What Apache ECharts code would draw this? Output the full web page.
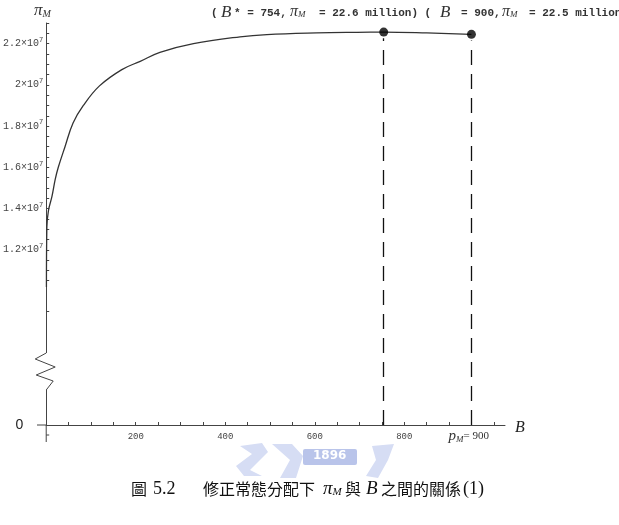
<!DOCTYPE html>
<html>
<head>
<meta charset="utf-8">
<script src="https://cdn.jsdelivr.net/npm/echarts@6/dist/echarts.min.js"></script>
<style>
  html, body { margin: 0; background: #fff; }
  #chart { width: 619px; height: 525px; }
</style>
</head>
<body>
<div id="chart"></div>
<script>
// curve (B, pi_M)
const budget = [0.5, 1.5, 5, 13, 20, 27, 42, 60, 83, 119, 169, 210, 254, 329, 433, 493, 604, 694, 754, 850, 950]
const profit = [1.02e7, 1.31e7, 1.39e7, 1.46e7, 1.54e7, 1.60e7, 1.70e7, 1.815e7, 1.90e7, 1.995e7, 2.074e7, 2.114e7, 2.158e7, 2.2e7, 2.233e7, 2.244e7, 2.252e7, 2.255e7, 2.256e7, 2.252e7, 2.245e7]

// the two marked points (the second one sits at ~950 in the drawing)
const markedB = [754, 950]
const markedProfit = [2.256e7, 2.245e7]

const xTickLabels = [200, 400, 600, 800]
const yTickLabels = [1.2e7, 1.4e7, 1.6e7, 1.8e7, 2e7, 2.2e7]

const yMin = 3.5e6   // shown as "0", the axis is broken below 1e7
const yMax = 2.3e7
const xMax = 1025

const chart = echarts.init(document.getElementById('chart'))

const xTicks = []
for (let v = 0; v <= 1000; v += 50) xTicks.push(v)
const yTicks = [9e6]
for (let v = 1.05e7; v <= yMax; v += 5e5) yTicks.push(v)

const serif = '"Liberation Serif", "DejaVu Serif", serif'
const mono = '"Liberation Mono", "DejaVu Sans Mono", monospace'
const cjk = '"Noto Sans CJK TC", "Noto Sans CJK SC", sans-serif'

chart.setOption({
  animation: false,
  grid: { left: 46, right: 619 - 505, top: 23, bottom: 100 },
  xAxis: {
    type: 'value',
    min: 0,
    max: xMax,
    splitLine: { show: false },
    axisLine: { lineStyle: { color: '#444', width: 1 } },
    axisTick: { inside: true, length: 3, customValues: xTicks, lineStyle: { color: '#444' } },
    axisLabel: {
      customValues: xTickLabels,
      color: '#444',
      fontFamily: mono,
      fontSize: 9,
      margin: 7
    }
  },
  yAxis: {
    type: 'value',
    min: yMin,
    max: yMax,
    splitLine: { show: false },
    axisLine: { lineStyle: { color: '#444', width: 1 } },
    axisTick: { inside: true, length: 3, customValues: yTicks, lineStyle: { color: '#444' } },
    axisLabel: {
      customValues: [yMin].concat(yTickLabels),
      margin: 3,
      formatter: function (v) {
        if (v === yMin) return '{zero|0}'
        return '{m|' + Math.round(v / 1e6) / 10 + '×10}{sup|7}'
      },
      rich: {
        zero: { fontFamily: '"Liberation Sans", sans-serif', fontSize: 14, color: '#222', padding: [0, 20, 0, 0] },
        m: { fontFamily: mono, fontSize: 10, color: '#444' },
        sup: { fontFamily: mono, fontSize: 7, color: '#444', padding: [0, 0, 7, 0] }
      }
    }
  },
  series: [
    {
      type: 'line',
      data: budget.map((b, i) => [b, profit[i]]),
      smooth: 0.4,
      showSymbol: false,
      lineStyle: { color: '#333', width: 1.3 },
      silent: true
    },
    {
      type: 'scatter',
      data: markedB.map((b, i) => [b, markedProfit[i]]),
      symbolSize: 9,
      itemStyle: { color: '#000' },
      z: 5,
      markLine: {
        silent: true,
        symbol: 'none',
        label: { show: false },
        lineStyle: { color: '#111', width: 1.3, type: [15, 9] },
        data: markedB.map((b, i) => [{ coord: [b, yMin] }, { coord: [b, markedProfit[i] - 3e5] }])
      }
    }
  ]
})

const x0 = chart.convertToPixel({ xAxisIndex: 0 }, 0)
const y0 = chart.convertToPixel({ yAxisIndex: 0 }, yMin)
const pmX = chart.convertToPixel({ xAxisIndex: 0 }, markedB[1])

const monoTxt = (x, s) => ({ type: 'text', left: x, top: 8, style: { text: s, fontFamily: mono, fontWeight: 'bold', fontSize: 11, fill: '#333' } })
const italB = (x) => ({ type: 'text', left: x, top: 4, style: { text: 'B', fontFamily: serif, fontStyle: 'italic', fontSize: 17, fill: '#333' } })
const piM = (x, y, size, color) => ({
  type: 'text', left: x, top: y,
  style: {
    text: '{p|π}{s|M}',
    rich: {
      p: { fontFamily: serif, fontStyle: 'italic', fontSize: size, fill: color },
      s: { fontFamily: serif, fontStyle: 'italic', fontSize: Math.round(size * 0.58), fill: color, padding: [Math.round(size * 0.4), 0, 0, 0] }
    }
  }
})
const cjkTxt = (x, s) => ({ type: 'text', left: x, top: 481, style: { text: s, fontFamily: cjk, fontSize: 16, fill: '#111' } })

chart.setOption({
  graphic: [
    // axis stubs past the origin
    { type: 'line', shape: { x1: 37, y1: y0, x2: x0, y2: y0 }, style: { stroke: '#444', lineWidth: 1 } },
    { type: 'line', shape: { x1: x0, y1: y0, x2: x0, y2: y0 + 17 }, style: { stroke: '#444', lineWidth: 1 } },
    { type: 'line', shape: { x1: x0, y1: y0 + 10, x2: x0 + 3, y2: y0 + 10 }, style: { stroke: '#444', lineWidth: 1 } },
    // axis break zigzag
    { type: 'rect', shape: { x: x0 - 2, y: 353, width: 4, height: 37 }, style: { fill: '#fff' }, z: 50 },
    {
      type: 'polyline',
      shape: { points: [[x0, 353], [x0 - 11, 359], [x0 + 9, 367], [x0 - 10, 375], [x0 + 7, 381], [x0, 390]] },
      style: { stroke: '#444', lineWidth: 1, fill: null },
      z: 51
    },
    // axis names
    piM(34, 2, 17, '#333'),
    { type: 'text', left: 515, top: y0 - 5, style: { text: 'B', fontFamily: serif, fontStyle: 'italic', fontSize: 16, fill: '#222' } },
    {
      type: 'text', left: pmX - 23, top: y0 + 4,
      style: {
        text: '{p|p}{s|M}{t|= 900}',
        rich: {
          p: { fontFamily: serif, fontStyle: 'italic', fontSize: 15, fill: '#333' },
          s: { fontFamily: serif, fontStyle: 'italic', fontSize: 9, fill: '#333', padding: [6, 0, 0, 0] },
          t: { fontFamily: serif, fontSize: 11, fill: '#333' }
        }
      }
    },
    // annotation at the top
    monoTxt(211, '('),
    italB(221),
    monoTxt(234, '* = 754,'),
    piM(290, 4, 16, '#333'),
    monoTxt(319, '= 22.6 million) ('),
    italB(440),
    monoTxt(461, '= 900,'),
    piM(502, 4, 16, '#333'),
    monoTxt(529, '= 22.5 million)'),
    // faint watermark
    { type: 'rect', shape: { x: 303, y: 449, width: 54, height: 16, r: 2 }, style: { fill: '#b9c4ea' } },
    { type: 'text', left: 313, top: 450, style: { text: '1896', fontFamily: '"DejaVu Sans", sans-serif', fontWeight: 'bold', fontSize: 12, fill: '#fff' } },
    { type: 'polygon', shape: { points: [[240, 446], [262, 443], [268, 452], [250, 470], [262, 476], [244, 476], [236, 466], [252, 454]] }, style: { fill: '#d6ddf4' } },
    { type: 'polygon', shape: { points: [[272, 444], [292, 444], [303, 456], [296, 478], [280, 478], [290, 460]] }, style: { fill: '#d6ddf4' } },
    { type: 'polygon', shape: { points: [[372, 446], [394, 444], [388, 460], [378, 478], [366, 476], [376, 460]] }, style: { fill: '#d6ddf4' } },
    // caption
    cjkTxt(131, '圖'),
    { type: 'text', left: 153, top: 480, style: { text: '5.2', fontFamily: serif, fontSize: 18, fill: '#111' } },
    cjkTxt(203, '修正常態分配下'),
    piM(323, 479, 19, '#111'),
    cjkTxt(345, '與'),
    { type: 'text', left: 366, top: 479, style: { text: 'B', fontFamily: serif, fontStyle: 'italic', fontSize: 19, fill: '#111' } },
    { type: 'text', left: 381, top: 481, style: { text: '之間的關係', fontFamily: cjk, fontSize: 16, fill: '#111', width: 85 } },
    { type: 'text', left: 463, top: 480, style: { text: '(1)', fontFamily: serif, fontSize: 18, fill: '#111' } }
  ]
})
</script>
</body>
</html>
